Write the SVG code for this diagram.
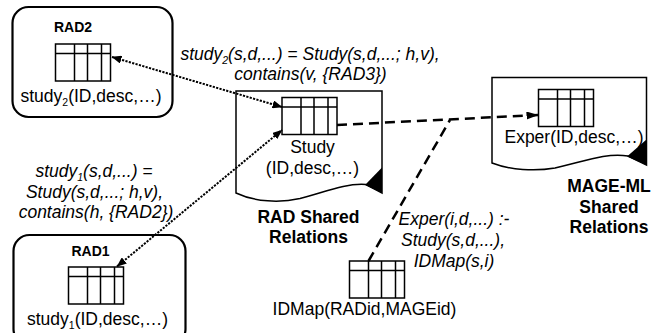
<svg xmlns="http://www.w3.org/2000/svg" xmlns:xlink="http://www.w3.org/1999/xlink" width="652" height="333" viewBox="0 0 652 333">
  <style>
    text { font-family: "Liberation Sans", Arial, sans-serif; fill: #000; }
    .lbl { font-size: 17.5px; text-anchor: middle; }
    .bold { font-weight: bold; }
    .it { font-style: italic; }
    .sub { font-size: 10.5px; }
    .box { fill: #fff; stroke: #000; stroke-width: 2.2; }
    .doc { fill: #fff; stroke: #000; stroke-width: 1.5; }
    .tbl { fill: none; stroke: #000; stroke-width: 1.5; }
    .dotted { fill: none; stroke: #000; stroke-width: 2; stroke-dasharray: 2.2 1.3; }
    .dashed { fill: none; stroke: #000; stroke-width: 2.5; stroke-dasharray: 10 6; }
  </style>
  <defs>
    <g id="table">
      <rect class="tbl" x="0" y="0" width="55" height="37"/>
      <path class="tbl" d="M0,9.5 H55 M19,0 V37 M32,0 V37 M46,0 V37"/>
    </g>
    <marker id="head" viewBox="0 0 10 8" refX="9.5" refY="4" markerWidth="10" markerHeight="8" markerUnits="userSpaceOnUse" orient="auto-start-reverse">
      <path d="M0,0 L10,4 L0,8 Z" fill="#000"/>
    </marker>
    <marker id="headBig" viewBox="0 0 12 8" refX="11.5" refY="4" markerWidth="12" markerHeight="8" markerUnits="userSpaceOnUse" orient="auto">
      <path d="M0,0 L12,4 L0,8 Z" fill="#000"/>
    </marker>
  </defs>

  <!-- RAD2 peer -->
  <g id="rad2">
    <rect class="box" x="12.5" y="7" width="160" height="110" rx="16"/>
    <text class="lbl bold" x="73" y="31.5" style="font-size:14px">RAD2</text>
    <use xlink:href="#table" x="55.5" y="44"/>
    <text class="lbl" x="91" y="101.5">study<tspan class="sub" dy="4">2</tspan><tspan dy="-4">(ID,desc,…)</tspan></text>
  </g>

  <!-- RAD1 peer -->
  <g id="rad1">
    <rect class="box" x="13.5" y="235" width="172" height="110" rx="16"/>
    <text class="lbl bold" x="90.5" y="255.5" style="font-size:14px">RAD1</text>
    <use xlink:href="#table" x="68.5" y="267"/>
    <text class="lbl" x="97.5" y="325">study<tspan class="sub" dy="4">1</tspan><tspan dy="-4">(ID,desc,…)</tspan></text>
  </g>

  <!-- RAD shared relations document -->
  <g id="rad-shared">
    <path class="doc" d="M236,91 H382 V193 L366,184.5 C345,183 325,192 300,198.5 C280,203 255,202 236,193 Z"/>
    <polygon points="365,185 382,167.5 382,193" fill="#000"/>
    <use xlink:href="#table" x="282" y="97.5"/>
    <text class="lbl" x="312.5" y="152.5">Study</text>
    <text class="lbl" x="312.5" y="174">(ID,desc,…)</text>
    <text class="lbl bold" x="308.5" y="222.5">RAD Shared</text>
    <text class="lbl bold" x="308.5" y="243">Relations</text>
  </g>

  <!-- MAGE-ML shared relations document -->
  <g id="mage-shared">
    <path class="doc" d="M492,77.5 H646.5 V165 L628,156 C605,152 580,163 555,168 C535,171.5 510,170 492,163 Z"/>
    <polygon points="627,156.5 646.5,139.5 646.5,165" fill="#000"/>
    <use xlink:href="#table" x="538.5" y="89.5"/>
    <text class="lbl" x="574" y="143">Exper(ID,desc,…)</text>
    <text class="lbl bold" x="609" y="191.5">MAGE-ML</text>
    <text class="lbl bold" x="609" y="213">Shared</text>
    <text class="lbl bold" x="609" y="233">Relations</text>
  </g>

  <!-- ID mapping table -->
  <g id="idmap">
    <use xlink:href="#table" x="349.5" y="261"/>
    <text class="lbl" x="364.5" y="315">IDMap(RADid,MAGEid)</text>
  </g>

  <!-- mappings between relations -->
  <g id="connectors">
    <line class="dotted" x1="112" y1="57" x2="282" y2="107" marker-start="url(#head)" marker-end="url(#head)"/>
    <line class="dotted" x1="117" y1="266.5" x2="282" y2="130" marker-start="url(#head)" marker-end="url(#head)"/>
    <line class="dashed" x1="337" y1="125" x2="538" y2="115" marker-end="url(#headBig)"/>
    <line class="dashed" x1="368.5" y1="261" x2="450" y2="120"/>
  </g>

  <!-- mapping definitions -->
  <g id="mapping-labels">
    <text class="lbl it" x="310" y="59.5">study<tspan class="sub" dy="4">2</tspan><tspan dy="-4">(s,d,...) = Study(s,d,...; h,v),</tspan></text>
    <text class="lbl it" x="310.5" y="79.5">contains(v, {RAD3})</text>
    <text class="lbl it" x="94" y="176.5">study<tspan class="sub" dy="4">1</tspan><tspan dy="-4">(s,d,...) =</tspan></text>
    <text class="lbl it" x="94.5" y="197.5">Study(s,d,...; h,v),</text>
    <text class="lbl it" x="96" y="218">contains(h, {RAD2})</text>
    <text class="lbl it" x="454" y="225">Exper(i,d,...) :-</text>
    <text class="lbl it" x="453" y="246">Study(s,d,...),</text>
    <text class="lbl it" x="454" y="267">IDMap(s,i)</text>
  </g>
</svg>
